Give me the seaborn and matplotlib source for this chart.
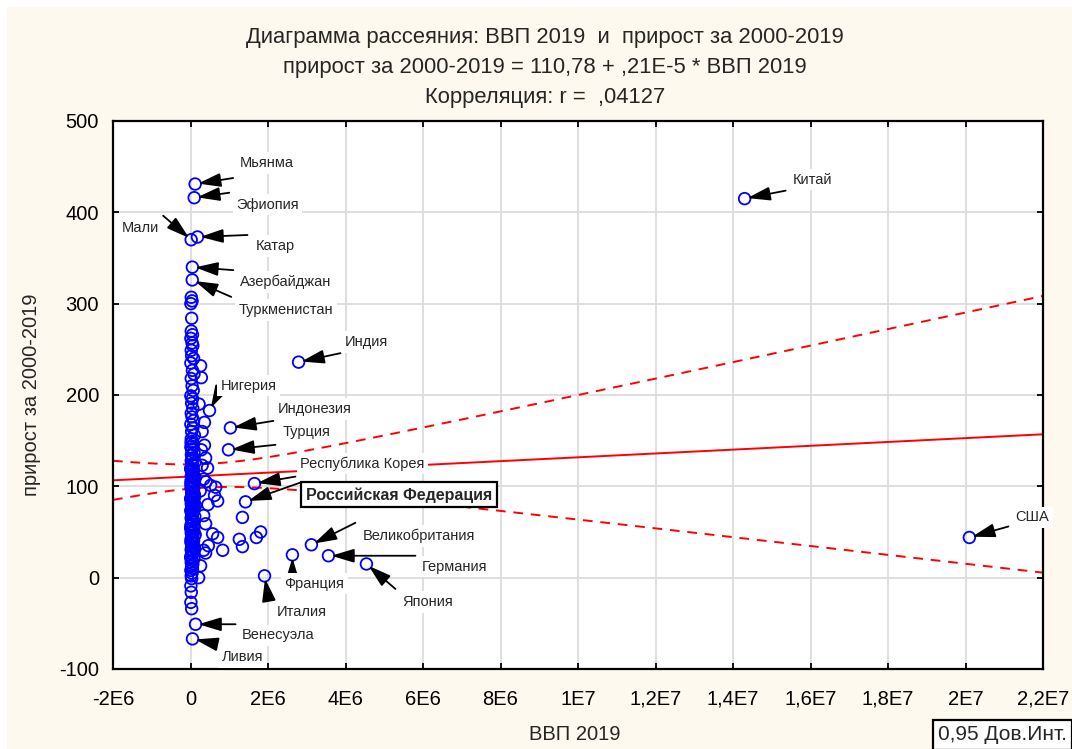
import numpy as np
import matplotlib
matplotlib.use("Agg")
import matplotlib.pyplot as plt
import seaborn as sns
import pandas as pd
from matplotlib.patches import Rectangle
from matplotlib.ticker import FixedLocator, FixedFormatter

# ---------------- data ----------------
labeled_names = ["Мьянма", "Эфиопия", "Мали", "Катар", "Азербайджан", "Туркменистан",
                 "Индия", "Китай", "Нигерия", "Индонезия", "Турция", "Республика Корея",
                 "Российская Федерация", "Великобритания", "Германия", "Франция",
                 "Япония", "Италия", "США", "Венесуэла", "Ливия"]
labeled_gdp = [120000, 96000, 17000, 180000, 48000, 45000,
               2790000, 14300000, 490000, 1030000, 980000, 1650000,
               1420000, 3120000, 3560000, 2630000,
               4540000, 1910000, 20100000, 130000, 52000]
labeled_growth = [431, 416, 370, 373, 340, 326,
                  236, 415, 183, 164, 140, 103,
                  83, 36, 24, 25,
                  15, 2, 44, -51, -67]

other_gdp = [20000, 40000, 10000, 30000, 20000, 50000, 10000, 40000, 60000, 20000,
             30000, 80000, 10000, 50000, 90000, 20000, 40000, 70000, 10000, 50000,
             30000, 60000, 20000, 40000, 80000, 10000, 60000, 30000, 100000, 20000,
             50000, 70000, 10000, 40000, 90000, 30000, 60000, 20000, 110000, 50000,
             10000, 80000, 30000, 60000, 20000, 120000, 40000, 70000, 10000, 50000,
             90000, 20000, 60000, 30000, 100000, 40000, 10000, 70000, 50000, 20000,
             130000, 30000, 80000, 10000, 60000, 40000, 110000, 20000, 50000, 70000,
             30000, 10000, 90000, 40000, 60000, 20000, 120000, 50000, 30000, 80000,
             10000, 60000, 40000, 100000, 20000, 70000, 30000, 50000, 10000, 90000,
             40000, 20000, 60000, 30000, 50000, 10000, 40000, 20000, 30000, 10000,
             20000, 10000, 30000,
             15000, 35000, 25000, 55000, 45000, 5000, 65000, 85000, 15000, 35000,
             25000, 75000, 45000, 5000, 55000, 95000, 15000, 35000, 25000, 65000,
             45000, 5000, 85000, 55000, 15000, 35000, 75000, 25000, 45000, 5000,
             65000, 15000, 105000, 35000, 55000,
             260000, 280000, 360000, 360000, 390000, 440000, 340000, 520000, 650000,
             700000, 620000, 1340000, 340000, 390000, 570000, 700000, 830000, 460000,
             340000, 390000, 260000, 210000, 1260000, 1340000, 1700000, 1810000,
             300000, 400000, 250000, 450000, 280000, 220000, 300000]
other_growth = [307, 303, 300, 284, 270, 266, 262, 257, 254, 249,
                243, 240, 235, 227, 223, 218, 210, 205, 199, 196,
                191, 185, 180, 176, 172, 168, 164, 160, 156, 152,
                149, 146, 143, 140, 137, 134, 131, 128, 126, 123,
                120, 118, 116, 113, 111, 109, 107, 105, 103, 101,
                99, 97, 95, 93, 91, 89, 87, 85, 83, 81,
                79, 77, 75, 73, 71, 69, 67, 65, 63, 61,
                59, 57, 55, 53, 51, 49, 47, 45, 43, 41,
                39, 37, 35, 33, 31, 29, 27, 25, 23, 21,
                19, 17, 15, 13, 10, 8, 5, 2, -1, -9,
                -16, -27, -34,
                148, 141, 135, 129, 124, 119, 114, 110, 106, 102,
                98, 94, 90, 86, 82, 78, 74, 70, 66, 62,
                58, 54, 50, 46, 42, 38, 34, 30, 26, 22,
                112, 100, 88, 76, 64,
                232, 219, 170, 145, 131, 120, 108, 101, 99,
                84, 90, 66, 68, 59, 48, 44, 30, 35,
                30, 27, 13, 0, 42, 34, 44, 50,
                123, 105, 95, 80, 140, 190, 160]

intercept = 110.78
slope = 0.21e-5
t_crit = 1.973

title_lines = ["Диаграмма рассеяния: ВВП 2019  и  прирост за 2000-2019",
               "прирост за 2000-2019 = 110,78 + ,21E-5 * ВВП 2019",
               "Корреляция: r =  ,04127"]
x_label = "ВВП 2019"
y_label = "прирост за 2000-2019"
legend_label = "0,95 Дов.Инт."
x_ticks = [-2e6, 0, 2e6, 4e6, 6e6, 8e6, 1e7, 1.2e7, 1.4e7, 1.6e7, 1.8e7, 2e7, 2.2e7]
x_tick_labels = ["-2E6", "0", "2E6", "4E6", "6E6", "8E6", "1E7", "1,2E7", "1,4E7",
                 "1,6E7", "1,8E7", "2E7", "2,2E7"]
y_ticks = [-100, 0, 100, 200, 300, 400, 500]
y_tick_labels = ["-100", "0", "100", "200", "300", "400", "500"]

# label layout: (text dx, text dy, arrow tail dx, arrow tail dy) in pixels
label_layout = {
    "Мьянма": (45, 21, 38, 6),
    "Эфиопия": (42, -7, 35, 5),
    "Мали": (-69, 12, -28, 24),
    "Катар": (58, -9, 50, 2),
    "Азербайджан": (48, -15, 41, -3),
    "Туркменистан": (46, -30, 39, -17),
    "Индия": (46, 20, 42, 9),
    "Китай": (48, 19, 41, 8),
    "Нигерия": (11, 25, 9, 17),
    "Индонезия": (47, 19, 43, 7),
    "Турция": (54, 18, 47, 5),
    "Республика Корея": (46, 20, 41, 7),
    "Российская Федерация": (60, 7, 54, 19),
    "Великобритания": (51, 9, 44, 22),
    "Германия": (93, -11, 87, 0),
    "Франция": (-8, -29, 0, -18),
    "Япония": (36, -38, 29, -25),
    "Италия": (12, -36, 4, -23),
    "США": (46, 20, 39, 11),
    "Венесуэла": (46, -11, 40, 0),
    "Ливия": (29, -18, 23, -5),
}

# ---------------- derived ----------------
df = pd.DataFrame({"gdp": labeled_gdp + other_gdp,
                   "growth": labeled_growth + other_growth})
xv = df["gdp"].to_numpy(float)
yv = df["growth"].to_numpy(float)
n = len(xv)
resid = yv - (intercept + slope * xv)
s = np.sqrt(np.sum(resid ** 2) / (n - 2))
xbar = xv.mean()
sxx = np.sum((xv - xbar) ** 2)
xg = np.linspace(x_ticks[0], x_ticks[-1], 300)
yfit = intercept + slope * xg
half = t_crit * s * np.sqrt(1.0 / n + (xg - xbar) ** 2 / sxx)

# ---------------- style ----------------
sns.set_style("white")
plt.rcParams["font.family"] = ["Liberation Sans", "DejaVu Sans"]

W, H = 1072, 749
fig = plt.figure(figsize=(W / 100, H / 100), dpi=100, facecolor="white")
fig.patches.append(Rectangle((7 / W, 0), 1 - 7 / W, 1 - 7 / H, transform=fig.transFigure,
                             facecolor="#FDF9EE", edgecolor="none", zorder=-10))
ax = fig.add_axes([113 / W, 80 / H, 930 / W, 548 / H])
ax.set_facecolor("white")

ax.plot(xg, yfit, color="#FF0000", lw=1.4, zorder=2)
ax.plot(xg, yfit + half, color="#FF0000", lw=1.4, ls=(0, (5, 4)), zorder=2)
ax.plot(xg, yfit - half, color="#FF0000", lw=1.4, ls=(0, (5, 4)), zorder=2)

sns.scatterplot(data=df, x="gdp", y="growth", ax=ax, marker="o", s=70,
                facecolor="none", edgecolor="#0000FF", linewidth=1.3, zorder=3,
                legend=False)

ax.set_xlim(x_ticks[0], x_ticks[-1])
ax.set_ylim(y_ticks[0], y_ticks[-1])
ax.xaxis.set_major_locator(FixedLocator(x_ticks))
ax.xaxis.set_major_formatter(FixedFormatter(x_tick_labels))
ax.yaxis.set_major_locator(FixedLocator(y_ticks))
ax.yaxis.set_major_formatter(FixedFormatter(y_tick_labels))
ax.grid(True, color="#DCDCDC", lw=1.3, zorder=0)
ax.set_axisbelow(True)
for sp in ax.spines.values():
    sp.set_color("black")
    sp.set_linewidth(1.6)
ax.tick_params(axis="both", which="major", labelsize=14.5, colors="black",
               direction="in", length=4, width=1.3,
               top=True, right=True, bottom=True, left=True)
ax.tick_params(axis="x", pad=15)
ax.tick_params(axis="y", pad=10)

ax.set_xlabel(x_label, fontsize=14.5)
ax.set_ylabel(y_label, fontsize=14.5)
ax.xaxis.set_label_coords(0.497, -0.102)
ax.yaxis.set_label_coords(-0.077, 0.5)

for i, line in enumerate(title_lines):
    fig.text(545 / W, 1 - (38 + i * 30) / H, line, ha="center", va="center",
             fontsize=15.8)

# annotations
for name, gx, gy in zip(labeled_names, labeled_gdp, labeled_growth):
    tdx, tdy, adx, ady = label_layout[name]
    ax.annotate("", xy=(gx, gy), xytext=(adx, ady), textcoords="offset pixels",
                arrowprops=dict(arrowstyle="-|>,head_length=1.0,head_width=0.3",
                                color="black", lw=1.3, shrinkA=0, shrinkB=2,
                                mutation_scale=14), zorder=5)
    if name == "Российская Федерация":
        ax.annotate(name, xy=(gx, gy), xytext=(tdx, tdy), textcoords="offset pixels",
                    ha="left", va="center", fontsize=11.5, fontweight="bold", zorder=6,
                    bbox=dict(boxstyle="square,pad=0.3", facecolor="white",
                              edgecolor="black", lw=1.6))
    else:
        ax.annotate(name, xy=(gx, gy), xytext=(tdx, tdy), textcoords="offset pixels",
                    ha="left", va="center", fontsize=10.5, zorder=6,
                    bbox=dict(boxstyle="square,pad=0.25", facecolor="white",
                              edgecolor="none"))

fig.text(938 / W, 1 - 735 / H, legend_label, ha="left", va="center", fontsize=15,
         bbox=dict(boxstyle="square,pad=0.25", facecolor="white", edgecolor="black",
                   lw=1.6))

fig.savefig("out.png", dpi=100, facecolor=fig.get_facecolor())
